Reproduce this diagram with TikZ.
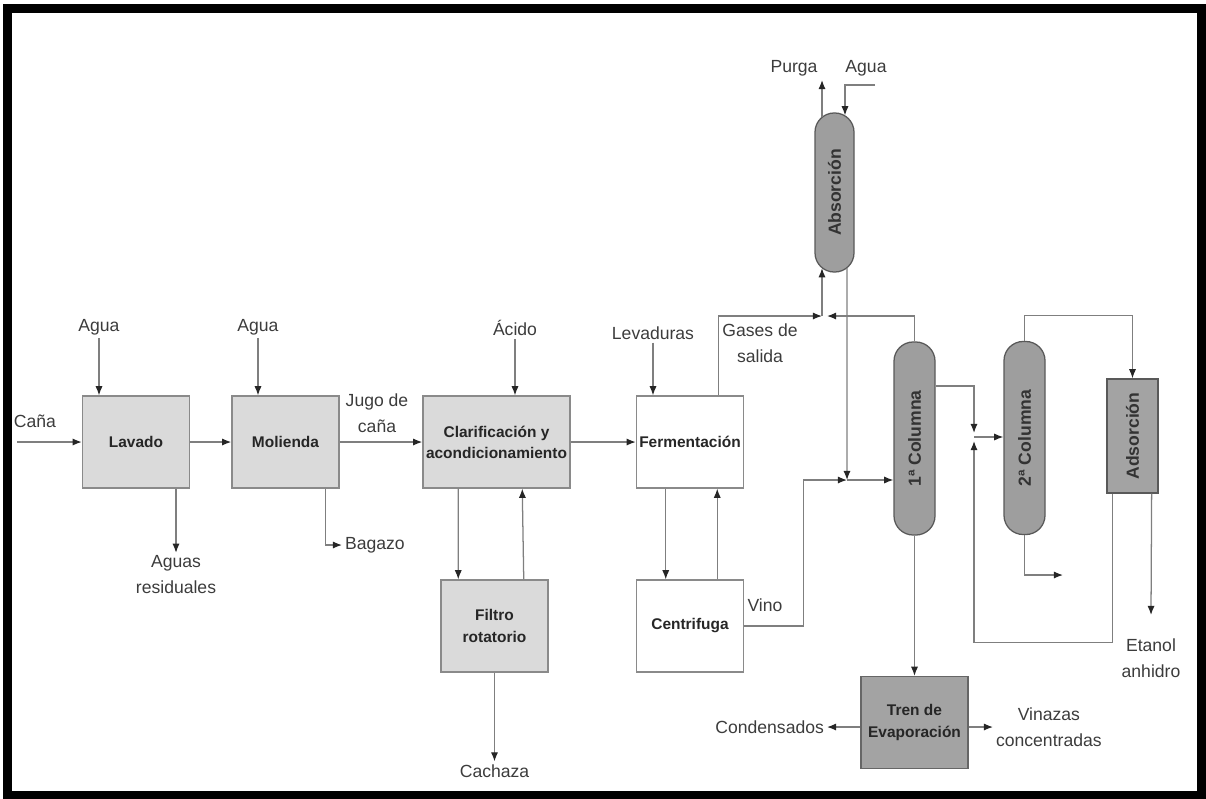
\documentclass[tikz,border=0pt]{standalone}
\usepackage{fontspec}
\setmainfont{Liberation Sans}
\usepackage{graphicx}
\usetikzlibrary{positioning, calc, arrows.meta}
\definecolor{boxgray}{HTML}{DADADA}
\definecolor{colgray}{HTML}{9E9E9E}
\definecolor{linegray}{HTML}{7F7F7F}
\definecolor{edgegray}{HTML}{8A8A8A}
\definecolor{txtgray}{HTML}{3C3C3C}
\tikzset{
	procnode/.style={
			shape=rectangle,
			draw=edgegray,
			line width=0.9pt,
			fill=boxgray,
			minimum width=2.68cm,
			minimum height=2.3cm,
			inner sep=0pt,
			align=center,
			font=\fontsize{11}{15}\selectfont\bfseries,
			text=black!85
		},
	whitenode/.style={
			procnode,
			fill=white
		},
	darknode/.style={
			procnode,
			fill=colgray!95,
			draw=gray!80!black
		},
	columnnode/.style={
			shape=rectangle,
			rounded corners=0.48cm,
			draw=gray!70!black,
			line width=0.9pt,
			fill=colgray,
			minimum width=1.025cm,
			minimum height=4.825cm,
			inner sep=0pt,
			font=\fontsize{12.5}{14}\selectfont\bfseries,
			text=black!80
		}
}
\tikzset{
	streamtext/.style={font=\fontsize{12.5}{18.5}\selectfont, text=txtgray, align=center, inner sep=2pt},
	flow/.style={draw=linegray, line width=0.9pt, -{Latex[length=2.3mm,width=1.8mm,color=black!85]}}
}

\begin{document}
\begin{tikzpicture}[x=0.025cm, y=-0.025cm]

  \useasboundingbox (0,0) rectangle (1206,798);
  \draw[line width=6.4pt] (7.5,8) rectangle (1201.5,795);

  \node[procnode] (lav) at (136,442) {Lavado};
  \node[procnode] (mol) at (285.5,442) {Molienda};
  \node[procnode, minimum width=3.68cm] (cla) at (496.5,442) {Clarificación y\\acondicionamiento};
  \node[whitenode] (fer) at (690,442) {Fermentación};
  \node[procnode] (fil) at (494.5,626) {Filtro\\rotatorio};
  \node[whitenode] (cen) at (690,626) {Centrifuga};
  \node[darknode] (tre) at (914.5,722.5) {Tren de\\Evaporación};
  \node[columnnode, minimum width=0.975cm, minimum height=3.975cm] (abs) at (834.5,192.5) {\rotatebox{90}{Absorción}};
  \node[columnnode] (co1) at (914.5,438.5) {\rotatebox{90}{1ª Columna}};
  \node[columnnode] (co2) at (1024.5,438) {\rotatebox{90}{2ª Columna}};
  \node[columnnode, sharp corners, fill=colgray!95, minimum width=1.275cm, minimum height=2.85cm] (ads) at (1132.5,436) {\rotatebox{90}{Adsorción}};

  \node[streamtext] (cana) at (35,421) {Caña};
  \node[streamtext] (agua1) at (99,327) {Agua};
  \node[streamtext] (agua2) at (258,327) {Agua};
  \node[streamtext] (aguas) at (176,575) {Aguas\\residuales};
  \node[streamtext, anchor=west] (baga) at (342,545) {Bagazo};
  \node[streamtext] (jugo) at (377,413) {Jugo de\\caña};
  \node[streamtext] (acid) at (515,328) {Ácido};
  \node[streamtext] (leva) at (653,333) {Levaduras};
  \node[streamtext] (gases) at (760,343) {Gases de\\salida};
  \node[streamtext] (cach) at (494.5,771) {Cachaza};
  \node[streamtext] (vino) at (765,605) {Vino};
  \node[streamtext] (purga) at (794,68) {Purga};
  \node[streamtext] (agua3) at (866,68) {Agua};
  \node[streamtext, anchor=east] (cond) at (827,727) {Condensados};
  \node[streamtext, anchor=west] (vina) at (993,727) {Vinazas\\concentradas};
  \node[streamtext] (etan) at (1151,658) {Etanol\\anhidro};

  \coordinate (canain) at (17,442);
  \coordinate (jgas) at (822,316);
  \coordinate (purgaout) at (822,80);
  \coordinate (aguain) at (875,85);
  \coordinate (jfeed) at (847,480);
  \coordinate (jside) at (974,437);
  \coordinate (co2out) at (1063,575);
  \coordinate (etanout) at (1151,615);

  \draw[flow] (canain) -- (lav.west);
  \draw[flow] (agua1) -- (agua1 |- lav.north);
  \draw[flow] (lav) -- (mol);
  \draw[flow] (aguas |- lav.south) -- (aguas);
  \draw[flow] (agua2) -- (agua2 |- mol.north);
  \draw[flow] ($(mol.south east)+(-14,0)$) |- (baga);
  \draw[flow] (mol) -- (cla);
  \draw[flow] (acid) -- (acid |- cla.north);
  \draw[flow] ($(cla.south west)+(36,0)$) -- ($(fil.north west)+(18,0)$);
  \draw[flow] ($(fil.north east)+(-25,0)$) -- ($(cla.south west)+(100,0)$);
  \draw[flow] (fil) -- (cach);
  \draw[flow] (cla) -- (fer);
  \draw[flow] (leva) -- (leva |- fer.north);
  \draw[flow] ($(fer.south west)+(30,0)$) -- ($(cen.north west)+(30,0)$);
  \draw[flow] ($(cen.north east)+(-27,0)$) -- ($(fer.south east)+(-27,0)$);
  \draw[flow] ($(fer.north east)+(-26,0)$) |- (jgas);
  \draw[flow] (co1.north) |- ($(jgas)+(5,0)$);
  \draw[flow] (jgas) -- ($(abs.south)+(-12.5,-4.5)$);
  \draw[flow] ($(abs.north)+(-12.5,4.5)$) -- (purgaout);
  \draw[flow] (aguain) -| ($(abs.north)+(10.5,3)$);
  \draw[flow] ($(abs.south)+(12.5,-4.5)$) -- (jfeed);
  \draw[flow] (cen.east) -- ++(59,0) |- (jfeed);
  \draw[flow] (jfeed) -- (jfeed -| co1.west);
  \draw[flow] ($(co1.east)+(0,-52.5)$) -| ($(jside)+(0,-4)$);
  \draw[flow] ($(ads.south west)+(6,0)$) -- ++(0,149) -| ($(jside)+(0,4)$);
  \draw[flow] (jside) -- (jside -| co2.west);
  \draw[flow] (co2.north) -- ++(0,-25) -| (ads.north);
  \draw[flow] (co2.south) |- (co2out);
  \draw[flow] ($(ads.south east)+(-7,0)$) -- (etanout);
  \draw[flow] (co1) -- (tre);
  \draw[flow] (tre.west |- cond.east) -- (cond.east);
  \draw[flow] (tre.east |- vina.west) -- (vina.west);

\end{tikzpicture}
\end{document}
